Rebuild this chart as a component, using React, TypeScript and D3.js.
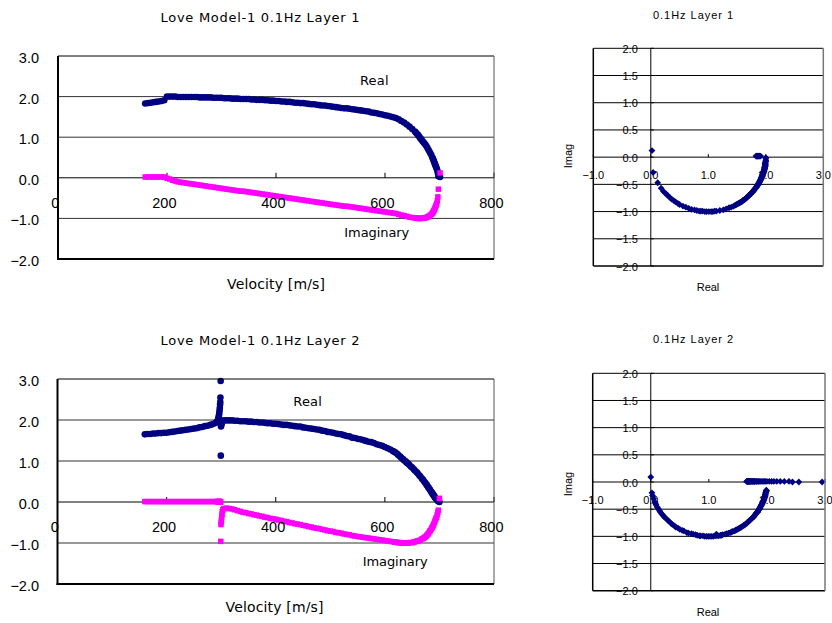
import React from "react";
import * as d3 from "d3";

// ---------- Layer 1 (velocity [m/s], real part, imaginary part) ----------
const V1 = [
  160, 165, 170, 175, 180, 185, 190, 195,
  200, 205, 210, 215, 220, 225, 230, 235, 240, 245, 250, 255, 260, 265, 270, 275, 280, 285, 290, 295, 300,
  305, 310, 315, 320, 325, 330, 335, 340, 345, 350, 355, 360, 365, 370, 375, 380, 385, 390, 395, 400,
  405, 410, 415, 420, 425, 430, 435, 440, 445, 450, 455, 460, 465, 470, 475, 480, 485, 490, 495, 500,
  505, 510, 515, 520, 525, 530, 535, 540, 545, 550, 555, 560, 565, 570, 575, 580, 585, 590, 595, 600,
  605, 610, 615, 620, 625, 630, 635, 640, 645, 650, 655,
  657, 659, 661, 663, 665, 667, 669, 671, 673, 675, 677, 679, 681, 683, 685,
  687, 688, 689, 690, 691, 692, 693, 694, 695, 696, 697, 698, 701,
];
const RE1 = [
  1.83, 1.84, 1.85, 1.86, 1.87, 1.88, 1.89, 1.91,
  2.0, 2.0, 2.0, 2.0, 1.99, 1.99, 1.99, 1.99, 1.99, 1.99, 1.99, 1.99, 1.98, 1.98, 1.98, 1.98, 1.98, 1.97, 1.97, 1.97, 1.97,
  1.96, 1.96, 1.96, 1.95, 1.95, 1.95, 1.94, 1.94, 1.94, 1.94, 1.93, 1.93, 1.92, 1.92, 1.92, 1.91, 1.91, 1.9, 1.9, 1.89,
  1.89, 1.88, 1.88, 1.87, 1.87, 1.86, 1.85, 1.85, 1.84, 1.84, 1.83, 1.82, 1.81, 1.81, 1.8, 1.79, 1.78, 1.78, 1.77, 1.76,
  1.75, 1.74, 1.73, 1.72, 1.71, 1.71, 1.7, 1.69, 1.68, 1.67, 1.66, 1.65, 1.64, 1.63, 1.61, 1.6, 1.59, 1.57, 1.56, 1.54,
  1.53, 1.51, 1.49, 1.47, 1.44, 1.4, 1.36, 1.31, 1.26, 1.2, 1.14,
  1.11, 1.08, 1.05, 1.01, 0.97, 0.94, 0.9, 0.87, 0.84, 0.8, 0.76, 0.71, 0.66, 0.61, 0.56,
  0.5, 0.47, 0.43, 0.4, 0.36, 0.33, 0.29, 0.26, 0.22, 0.18, 0.12, 0.04, 0.02,
];
const IM1 = [
  0.02, 0.02, 0.02, 0.02, 0.02, 0.02, 0.02, 0.02,
  -0.01, -0.03, -0.06, -0.08, -0.1, -0.11, -0.12, -0.13, -0.14, -0.15, -0.16, -0.17, -0.18, -0.19, -0.2, -0.21, -0.22, -0.23, -0.24, -0.25, -0.26,
  -0.27, -0.28, -0.29, -0.3, -0.31, -0.32, -0.33, -0.33, -0.34, -0.35, -0.36, -0.37, -0.38, -0.39, -0.4, -0.41, -0.42, -0.43, -0.44, -0.45,
  -0.46, -0.47, -0.48, -0.49, -0.5, -0.51, -0.52, -0.53, -0.54, -0.55, -0.56, -0.57, -0.58, -0.59, -0.6, -0.61, -0.62, -0.63, -0.64, -0.65,
  -0.66, -0.67, -0.68, -0.69, -0.7, -0.7, -0.71, -0.72, -0.73, -0.74, -0.75, -0.76, -0.77, -0.78, -0.79, -0.8, -0.81, -0.82, -0.83, -0.84,
  -0.85, -0.86, -0.87, -0.88, -0.9, -0.92, -0.93, -0.95, -0.97, -0.98, -0.99,
  -0.99, -1.0, -1.0, -1.0, -1.0, -1.0, -0.99, -0.99, -0.99, -0.98, -0.97, -0.96, -0.94, -0.92, -0.9,
  -0.87, -0.85, -0.82, -0.8, -0.77, -0.74, -0.7, -0.67, -0.63, -0.57, -0.47, -0.28, 0.12,
];

// ---------- Layer 2 ----------
const V2 = [
  160, 165, 170, 175, 180, 185, 190, 195, 200, 205, 210, 215, 220, 225, 230, 235, 240, 245, 250, 255, 260, 265, 270, 275, 280, 285, 290,
  292, 293, 294, 295, 295.5, 296, 296.5, 297, 297.5, 298, 298.3, 298.6, 299,
  299.3, 299.6, 300, 300.5, 301, 301.5, 302, 303,
  305, 310, 315, 320, 325, 330, 335, 340, 345, 350, 355, 360, 365, 370, 375, 380, 385, 390, 395, 400,
  405, 410, 415, 420, 425, 430, 435, 440, 445, 450, 455, 460, 465, 470, 475, 480, 485, 490, 495, 500,
  505, 510, 515, 520, 525, 530, 535, 540, 545, 550, 555, 560, 565, 570, 575, 580, 585, 590, 595, 600,
  605, 610, 615, 618, 620, 623, 625, 628, 630, 633, 635, 638, 640, 643, 645, 648, 650, 653, 655, 658,
  660, 663, 665, 668, 670, 672, 674, 676, 677, 679, 680, 682, 683, 685, 686, 687, 688, 689, 690, 691,
  692, 693, 694, 695, 696, 697, 698, 700,
];
const RE2 = [
  1.65, 1.66, 1.66, 1.67, 1.67, 1.68, 1.68, 1.69, 1.69, 1.7, 1.71, 1.72, 1.73, 1.74, 1.75, 1.76, 1.77, 1.78, 1.79, 1.8, 1.82, 1.83, 1.85, 1.86, 1.88, 1.9, 1.93,
  1.95, 1.97, 2.0, 2.04, 2.08, 2.12, 2.17, 2.23, 2.3, 2.38, 2.44, 2.55, 2.95,
  1.13, 1.84, 1.87, 1.9, 1.93, 1.95, 1.97, 1.98,
  1.99, 1.99, 1.99, 1.99, 1.98, 1.98, 1.97, 1.97, 1.97, 1.96, 1.96, 1.95, 1.95, 1.94, 1.94, 1.93, 1.92, 1.92, 1.91, 1.91,
  1.9, 1.89, 1.88, 1.88, 1.87, 1.86, 1.85, 1.84, 1.84, 1.82, 1.81, 1.8, 1.79, 1.78, 1.77, 1.76, 1.74, 1.73, 1.71, 1.7,
  1.69, 1.67, 1.66, 1.65, 1.63, 1.61, 1.6, 1.57, 1.56, 1.54, 1.53, 1.51, 1.49, 1.47, 1.46, 1.44, 1.41, 1.39, 1.37, 1.34,
  1.31, 1.28, 1.24, 1.22, 1.2, 1.17, 1.14, 1.11, 1.08, 1.05, 1.02, 0.99, 0.96, 0.93, 0.9, 0.86, 0.84, 0.8, 0.77, 0.73,
  0.7, 0.65, 0.62, 0.57, 0.54, 0.5, 0.47, 0.43, 0.41, 0.37, 0.35, 0.31, 0.29, 0.25, 0.23, 0.21, 0.19, 0.17, 0.15, 0.13,
  0.11, 0.09, 0.08, 0.07, 0.05, 0.03, 0.02, 0.0,
];
const IM2 = [
  0.01, 0.01, 0.01, 0.01, 0.01, 0.01, 0.01, 0.01, 0.01, 0.01, 0.01, 0.01, 0.01, 0.01, 0.01, 0.01, 0.01, 0.01, 0.01, 0.01, 0.01, 0.01, 0.01, 0.01, 0.01, 0.01, 0.01,
  0.01, 0.01, 0.01, 0.01, 0.01, 0.01, 0.01, 0.01, 0.01, 0.01, 0.0, 0.0, 0.0,
  -0.96, -0.55, -0.49, -0.43, -0.36, -0.3, -0.24, -0.19,
  -0.16, -0.15, -0.16, -0.17, -0.19, -0.21, -0.23, -0.25, -0.26, -0.28, -0.29, -0.31, -0.32, -0.34, -0.35, -0.37, -0.38, -0.4, -0.41, -0.42,
  -0.44, -0.45, -0.47, -0.48, -0.5, -0.51, -0.53, -0.54, -0.55, -0.57, -0.58, -0.6, -0.61, -0.63, -0.64, -0.65, -0.67, -0.68, -0.7, -0.71,
  -0.72, -0.74, -0.75, -0.76, -0.78, -0.79, -0.8, -0.82, -0.83, -0.84, -0.85, -0.86, -0.87, -0.88, -0.89, -0.9, -0.91, -0.92, -0.93, -0.94,
  -0.95, -0.96, -0.97, -0.98, -0.98, -0.99, -0.99, -0.99, -1.0, -1.0, -1.0, -1.0, -1.0, -1.0, -0.99, -0.99, -0.99, -0.98, -0.97, -0.96,
  -0.95, -0.94, -0.93, -0.9, -0.89, -0.87, -0.85, -0.83, -0.81, -0.78, -0.76, -0.72, -0.7, -0.66, -0.64, -0.61, -0.59, -0.56, -0.53, -0.49,
  -0.46, -0.42, -0.39, -0.37, -0.31, -0.25, -0.2, 0.09,
];

// ---------- Axes / labels ----------
const VEL_TICKS = [0, 200, 400, 600, 800];
const AMP_TICKS = [-2, -1, 0, 1, 2, 3];
const CPX_X_TICKS = [-1, 0, 1, 2, 3];
const CPX_Y_TICKS = [-2, -1.5, -1, -0.5, 0, 0.5, 1, 1.5, 2];
const TITLES = ["Love Model-1 0.1Hz Layer 1", "Love Model-1 0.1Hz Layer 2"];
const CPX_TITLES = ["0.1Hz Layer 1", "0.1Hz Layer 2"];
const X_LABEL = "Velocity [m/s]";
const REAL_LABEL = "Real";
const IMAG_LABEL = "Imaginary";
const CPX_X_LABEL = "Real";
const CPX_Y_LABEL = "Imag";

const NAVY = "#000080";
const MAGENTA = "#FF00FF";
const fmt = d3.format(".1f");
const diamond = (r: number) => `M0,${-r}L${r},0L0,${r}L${-r},0Z`;

type Box = { l: number; r: number; t: number; b: number };

function VelocityPanel(p: {
  v: number[]; re: number[]; im: number[]; box: Box; title: string;
  titleY: number; realAt: [number, number]; imagAt: [number, number]; xlab: [number, number];
}) {
  const { v, re, im, box } = p;
  const x = d3.scaleLinear().domain([0, 800]).range([box.l, box.r]);
  const y = d3.scaleLinear().domain([-2, 3]).range([box.b, box.t]);
  const lab = { fontFamily: "'Liberation Sans', Arial, sans-serif", fontSize: 14.5, fill: "#000" };
  const jp = { fontFamily: "'DejaVu Sans', sans-serif", fill: "#000" };
  return (
    <g>
      <text x={260} y={p.titleY} textAnchor="middle" fontSize={13} textLength={199} lengthAdjust="spacing" {...jp}>{p.title}</text>
      <rect x={box.l} y={box.t} width={box.r - box.l} height={box.b - box.t} fill="#fff" />
      {AMP_TICKS.filter((t) => t > -2 && t < 3 && t !== 0).map((t) => (
        <line key={t} x1={box.l} x2={box.r} y1={y(t)} y2={y(t)} stroke="#333" strokeWidth={1} />
      ))}
      <line x1={box.l} x2={box.r} y1={y(0)} y2={y(0)} stroke="#000" strokeWidth={1} />
      {VEL_TICKS.map((t) => (
        <line key={t} x1={x(t)} x2={x(t)} y1={y(0)} y2={y(0) - 5} stroke="#000" strokeWidth={1} />
      ))}
      {v.map((d, i) => (
        <circle key={"r" + i} cx={x(d)} cy={y(re[i])} r={3.3} fill={NAVY} />
      ))}
      {v.map((d, i) => (
        <rect key={"i" + i} x={x(d) - 2.75} y={y(im[i]) - 2.75} width={5.5} height={5.5} fill={MAGENTA} />
      ))}
      <line x1={box.l} x2={box.r} y1={box.t} y2={box.t} stroke="#000" strokeWidth={1} />
      <line x1={box.r} x2={box.r} y1={box.t} y2={box.b} stroke="#555" strokeWidth={1} />
      <line x1={box.l} x2={box.l} y1={box.t} y2={box.b + 1} stroke="#000" strokeWidth={2} />
      <line x1={box.l - 1} x2={box.r} y1={box.b} y2={box.b} stroke="#000" strokeWidth={2} />
      {AMP_TICKS.map((t) => (
        <text key={"yl" + t} x={39} y={y(t) + 7} textAnchor="end" {...lab}>{fmt(t)}</text>
      ))}
      {VEL_TICKS.map((t) => (
        <text key={"xl" + t} x={x(t) - 2.6} y={y(0) + 30} textAnchor="middle" {...lab}>{String(t)}</text>
      ))}
      <text x={p.xlab[0]} y={p.xlab[1]} textAnchor="middle" fontSize={14} textLength={98} lengthAdjust="spacing" {...jp}>{X_LABEL}</text>
      <text x={p.realAt[0]} y={p.realAt[1]} fontSize={13} textLength={28.5} lengthAdjust="spacing" {...jp}>{REAL_LABEL}</text>
      <text x={p.imagAt[0]} y={p.imagAt[1]} fontSize={13} textLength={65} lengthAdjust="spacing" {...jp}>{IMAG_LABEL}</text>
    </g>
  );
}

function ComplexPanel(p: { re: number[]; im: number[]; box: Box; title: string; titleY: number; imagY: number; realY: number }) {
  const { re, im, box } = p;
  const x = d3.scaleLinear().domain([-1, 3]).range([box.l, box.r]);
  const y = d3.scaleLinear().domain([-2, 2]).range([box.b, box.t]);
  const lab = { fontFamily: "'Liberation Sans', Arial, sans-serif", fontSize: 11, fill: "#000" };
  return (
    <g>
      <text x={693} y={p.titleY} textAnchor="middle" fontSize={11} textLength={80} lengthAdjust="spacing" {...lab}>{p.title}</text>
      <rect x={box.l} y={box.t} width={box.r - box.l} height={box.b - box.t} fill="#fff" />
      {CPX_Y_TICKS.map((t) => (
        <text key={"yl" + t} x={x(0) - 13} y={y(t) + 4.5} textAnchor="end" {...lab}>{fmt(t)}</text>
      ))}
      {CPX_X_TICKS.map((t) => (
        <text key={"xl" + t} x={x(t)} y={y(0) + 21.5} textAnchor="middle" {...lab}>{fmt(t)}</text>
      ))}
      {CPX_Y_TICKS.filter((t) => t > -2 && t < 2).map((t) => (
        <line key={t} x1={box.l} x2={box.r} y1={y(t)} y2={y(t)} stroke="#000" strokeWidth={1} />
      ))}
      <line x1={x(0)} x2={x(0)} y1={box.t} y2={box.b} stroke="#000" strokeWidth={1} />
      {CPX_X_TICKS.map((t) => (
        <line key={"xt" + t} x1={x(t)} x2={x(t)} y1={y(0)} y2={y(0) - 3} stroke="#000" strokeWidth={1} />
      ))}
      {CPX_Y_TICKS.map((t) => (
        <line key={"yt" + t} x1={x(0)} x2={x(0) + 3} y1={y(t)} y2={y(t)} stroke="#000" strokeWidth={1} />
      ))}
      {re.map((r, i) => (
        <path key={i} d={diamond(3.4)} transform={`translate(${x(r)},${y(im[i])})`} fill={NAVY} />
      ))}
      <line x1={box.l} x2={box.r} y1={box.t} y2={box.t} stroke="#000" strokeWidth={1} />
      <line x1={box.l} x2={box.r} y1={box.b} y2={box.b} stroke="#000" strokeWidth={1.5} />
      <line x1={box.l} x2={box.l} y1={box.t} y2={box.b} stroke="#000" strokeWidth={1.5} />
      <line x1={box.r} x2={box.r} y1={box.t} y2={box.b} stroke="#777" strokeWidth={1.5} />
      <text transform={`translate(572,${p.imagY}) rotate(-90)`} textAnchor="middle" {...lab}>{CPX_Y_LABEL}</text>
      <text x={708} y={p.realY} textAnchor="middle" {...lab}>{CPX_X_LABEL}</text>
    </g>
  );
}

export default function App() {
  return (
    <svg width={832} height={623} style={{ position: "absolute", left: 0, top: 0, background: "#fff" }}>
      <rect x={0} y={0} width={832} height={623} fill="#fff" />
      <VelocityPanel v={V1} re={RE1} im={IM1} box={{ l: 58, r: 494, t: 56, b: 259 }} title={TITLES[0]}
        titleY={21.5} realAt={[360, 85]} imagAt={[344.3, 236.5]} xlab={[276, 289]} />
      <VelocityPanel v={V2} re={RE2} im={IM2} box={{ l: 57.5, r: 494, t: 379, b: 584 }} title={TITLES[1]}
        titleY={345} realAt={[293.3, 406]} imagAt={[362.7, 566]} xlab={[274.5, 611.5]} />
      <ComplexPanel re={RE1} im={IM1} box={{ l: 593.3, r: 823.3, t: 48.3, b: 266 }} title={CPX_TITLES[0]}
        titleY={19} imagY={156} realY={291} />
      <ComplexPanel re={RE2} im={IM2} box={{ l: 592.7, r: 825, t: 373.3, b: 590.7 }} title={CPX_TITLES[1]}
        titleY={343} imagY={484} realY={616} />
    </svg>
  );
}
